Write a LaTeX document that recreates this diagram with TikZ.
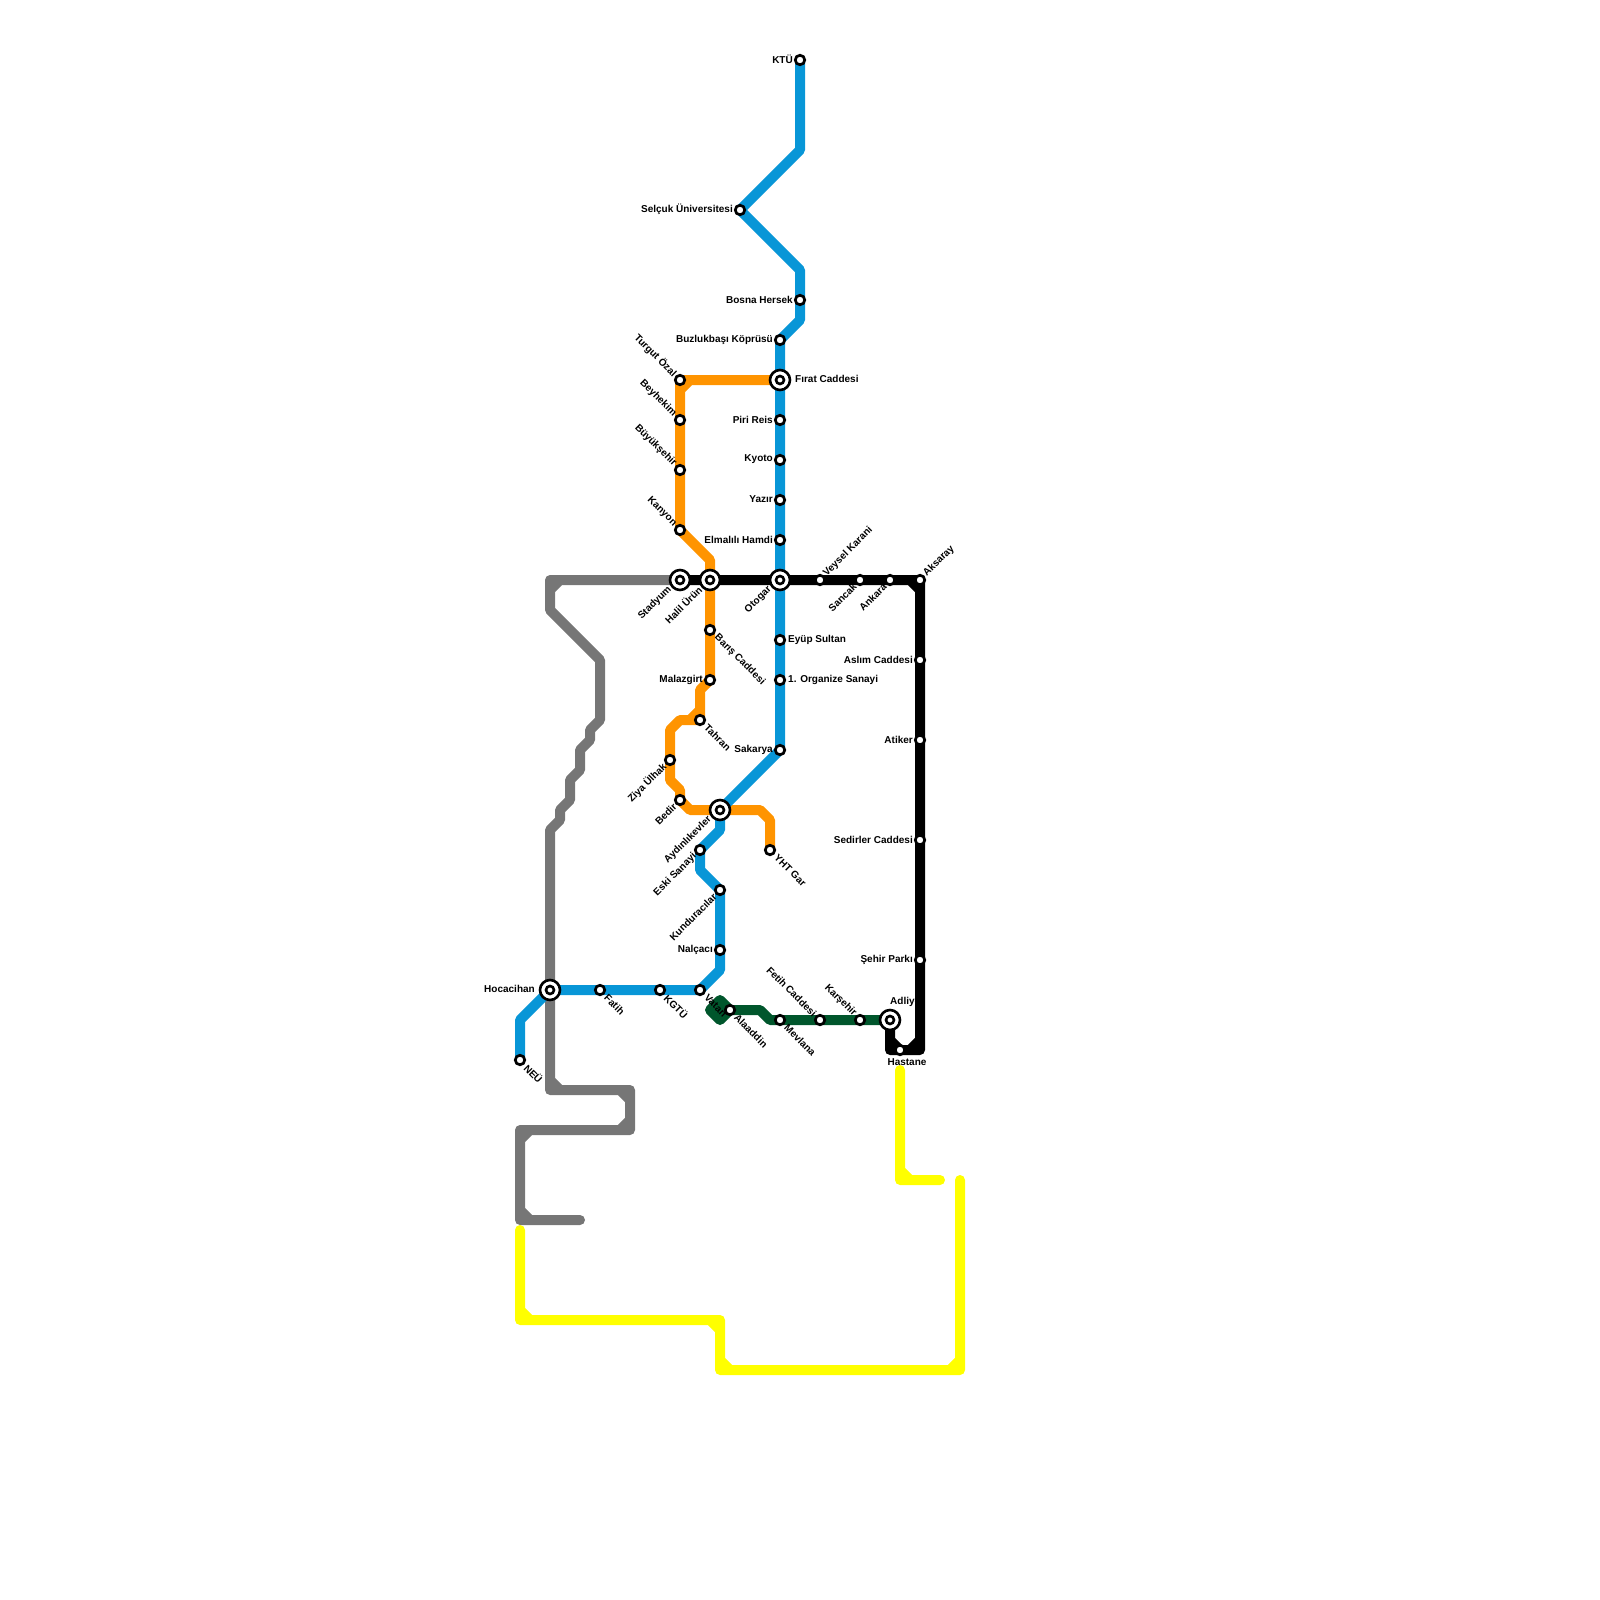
\documentclass[tikz,border=0pt]{standalone}
\usepackage{xcolor}
\usepackage{fontspec}
\setmainfont{Liberation Sans}
\usetikzlibrary{backgrounds}
\definecolor{tramblue}{HTML}{0896D7}
\definecolor{tramorange}{HTML}{FF9400}
\definecolor{tramgray}{HTML}{767676}
\definecolor{tramgreen}{HTML}{00562C}
\definecolor{tramyellow}{HTML}{FFFF00}
\tikzset{
    tramline/.style={line width=10pt, line join=round, line cap=round},
    stn/.style={circle, draw=black, fill=white, line width=2.7pt, minimum size=9.5pt, inner sep=0pt},
    hub/.style={circle, draw=black, fill=white, line width=2.6pt, minimum size=20pt, inner sep=0pt,
          path picture={\draw[line width=2.6pt] (path picture bounding box.center) circle (4pt);}},
    lbl/.style={inner sep=0pt, font=\bfseries\fontsize{10}{12}\selectfont, text=black},
    lblw/.style={lbl, anchor=east, xshift=-7pt, yshift=.5pt},
    lble/.style={lbl, anchor=west, xshift=8pt, yshift=.5pt},
    lblhw/.style={lbl, anchor=east, xshift=-15pt, yshift=1pt},
    lblhe/.style={lbl, anchor=west, xshift=15pt, yshift=1pt},
    lblse/.style={lbl, anchor=west, xshift=6pt, yshift=-6pt, rotate=-45},
    lblne/.style={lbl, anchor=west, xshift=5pt, yshift=5pt, rotate=45},
    lblsw/.style={lbl, anchor=east, xshift=-5pt, yshift=-5pt, rotate=45},
    lblnw/.style={lbl, anchor=east, xshift=-5pt, yshift=5pt, rotate=-45},
    lblhsw/.style={lbl, anchor=east, xshift=-10pt, yshift=-8pt, rotate=45}
}

\begin{document}
\begin{tikzpicture}[x=1pt, y=-1pt]
    \useasboundingbox (0,0) rectangle (1600,1600);

    \node[stn] (ktu) at (800,60) {};
    \node[stn] (selcuk) at (740,210) {};
    \node[stn] (bosna) at (800,300) {};
    \node[stn] (buzluk) at (780,340) {};
    \node[hub] (firat) at (780,380) {};
    \node[stn] (piri) at (780,420) {};
    \node[stn] (kyoto) at (780,460) {};
    \node[stn] (yazir) at (780,500) {};
    \node[stn] (elmalili) at (780,540) {};
    \node[hub] (otogar) at (780,580) {};
    \node[stn] (eyup) at (780,640) {};
    \node[stn] (organize) at (780,680) {};
    \node[stn] (sakarya) at (780,750) {};
    \node[hub] (aydinlik) at (720,810) {};
    \node[stn] (eski) at (700,850) {};
    \node[stn] (kundura) at (720,890) {};
    \node[stn] (nalcaci) at (720,950) {};
    \node[stn] (vatan) at (700,990) {};
    \node[stn] (kgtu) at (660,990) {};
    \node[stn] (fatih) at (600,990) {};
    \node[hub] (hocacihan) at (550,990) {};
    \node[stn] (neu) at (520,1060) {};

    \node[stn] (turgut) at (680,380) {};
    \node[stn] (beyhekim) at (680,420) {};
    \node[stn] (buyuksehir) at (680,470) {};
    \node[stn] (kanyon) at (680,530) {};
    \node[hub] (halil) at (710,580) {};
    \node[stn] (baris) at (710,630) {};
    \node[stn] (malazgirt) at (710,680) {};
    \node[stn] (tahran) at (700,720) {};
    \node[stn] (ziya) at (670,760) {};
    \node[stn] (bedir) at (680,800) {};
    \node[stn] (yht) at (770,850) {};

    \node[hub] (stadyum) at (680,580) {};
    \node[stn] (veysel) at (820,580) {};
    \node[stn] (sancak) at (860,580) {};
    \node[stn] (ankara) at (890,580) {};
    \node[stn] (aksaray) at (920,580) {};
    \node[stn] (aslim) at (920,660) {};
    \node[stn] (atiker) at (920,740) {};
    \node[stn] (sedirler) at (920,840) {};
    \node[stn] (sehir) at (920,960) {};
    \node[stn] (hastane) at (900,1050) {};
    \node[hub] (adliye) at (890,1020) {};

    \node[stn] (karsehir) at (860,1020) {};
    \node[stn] (fetih) at (820,1020) {};
    \node[stn] (mevlana) at (780,1020) {};
    \node[stn] (alaaddin) at (730,1010) {};

    \begin{scope}[on background layer]
        \draw[tramline, tramgray] (stadyum.center) -- (550,580) -- (550,610) -- (600,660) -- (600,720) -- (590,730)
            -- (590,740) -- (580,750) -- (580,770) -- (570,780) -- (570,800) -- (560,810) -- (560,820) -- (550,830)
            -- (550,1090) -- (630,1090) -- (630,1130) -- (520,1130) -- (520,1220) -- (580,1220)
            (550,590) -- (560,580) (550,1080) -- (560,1090) (620,1090) -- (630,1100)
            (630,1120) -- (620,1130) (530,1130) -- (520,1140) (520,1210) -- (530,1220);
        \draw[tramline, tramyellow] (900,1070) -- (900,1180) -- (940,1180) (900,1170) -- (910,1180);
        \draw[tramline, tramyellow] (960,1180) -- (960,1370) -- (720,1370) -- (720,1320) -- (520,1320) -- (520,1230)
            (960,1360) -- (950,1370) (720,1360) -- (730,1370) (710,1320) -- (720,1330) (520,1310) -- (530,1320);
        \draw[tramline, tramorange] (firat.center) -- (turgut.center) -- (kanyon.center) -- (710,560) -- (malazgirt.center)
            -- (700,690) -- (tahran.center) -- (680,720) -- (670,730) -- (670,780) -- (680,790) -- (bedir.center)
            -- (690,810) -- (760,810) -- (770,820) -- (yht.center)
            (690,380) -- (680,390) (690,720) -- (700,710);
        \draw[tramline, tramblue] (ktu.center) -- (800,150) -- (selcuk.center) -- (800,270) -- (800,320) -- (buzluk.center)
            -- (sakarya.center) -- (aydinlik.center) -- (720,830) -- (eski.center) -- (700,870) -- (kundura.center)
            -- (720,970) -- (vatan.center) -- (hocacihan.center) -- (520,1020) -- (neu.center);
        \draw[tramline, tramgreen, fill=tramgreen] (730,1010) -- (720,1000) -- (710,1010) -- (720,1020) -- cycle;
        \draw[tramline, tramgreen] (alaaddin.center) -- (760,1010) -- (770,1020) -- (adliye.center);
        \draw[tramline, black] (stadyum.center) -- (aksaray.center) -- (920,1050) -- (890,1050) -- (adliye.center)
            (910,580) -- (920,590) (910,1050) -- (920,1040) (890,1040) -- (900,1050);
    \end{scope}

    \node[lblw] (ktulbl) at (ktu) {KTÜ};
    \node[lblw] (selcuklbl) at (selcuk) {Selçuk Üniversitesi};
    \node[lblw] (bosnalbl) at (bosna) {Bosna Hersek};
    \node[lblw] (buzluklbl) at (buzluk) {Buzlukbaşı Köprüsü};
    \node[lblhe] (firatlbl) at (firat) {Fırat Caddesi};
    \node[lblw] (pirilbl) at (piri) {Piri Reis};
    \node[lblw] (kyotolbl) at (kyoto) {Kyoto};
    \node[lblw] (yazirlbl) at (yazir) {Yazır};
    \node[lblw] (elmalililbl) at (elmalili) {Elmalılı Hamdi};
    \node[lblhsw] (otogarlbl) at (otogar) {Otogar};
    \node[lble] (eyuplbl) at (eyup) {Eyüp Sultan};
    \node[lble] (organizelbl) at (organize) {1. Organize Sanayi};
    \node[lblw] (sakaryalbl) at (sakarya) {Sakarya};
    \node[lblhsw] (aydinliklbl) at (aydinlik) {Aydınlıkevler};
    \node[lblsw] (eskilbl) at (eski) {Eski Sanayi};
    \node[lblsw] (kunduralbl) at (kundura) {Kunduracılar};
    \node[lblw] (nalcacilbl) at (nalcaci) {Nalçacı};
    \node[lblse] (vatanlbl) at (vatan) {Vatan};
    \node[lblse] (kgtulbl) at (kgtu) {KGTÜ};
    \node[lblse] (fatihlbl) at (fatih) {Fatih};
    \node[lblhw] (hocacihanlbl) at (hocacihan) {Hocacihan};
    \node[lblse] (neulbl) at (neu) {NEÜ};
    \node[lblnw] (turgutlbl) at (turgut) {Turgut Özal};
    \node[lblnw] (beyhekimlbl) at (beyhekim) {Beyhekim};
    \node[lblnw] (buyuksehirlbl) at (buyuksehir) {Büyükşehir};
    \node[lblnw] (kanyonlbl) at (kanyon) {Kanyon};
    \node[lblhsw] (halillbl) at (halil) {Halil Ürün};
    \node[lblse] (barislbl) at (baris) {Barış Caddesi};
    \node[lblw] (malazgirtlbl) at (malazgirt) {Malazgirt};
    \node[lblse] (tahranlbl) at (tahran) {Tahran};
    \node[lblsw] (ziyalbl) at (ziya) {Ziya Ülhak};
    \node[lblsw] (bedirlbl) at (bedir) {Bedir};
    \node[lblse] (yhtlbl) at (yht) {YHT Gar};
    \node[lblhsw] (stadyumlbl) at (stadyum) {Stadyum};
    \node[lblne] (veysellbl) at (veysel) {Veysel Karani};
    \node[lblsw] (sancaklbl) at (sancak) {Sancak};
    \node[lblsw] (ankaralbl) at (ankara) {Ankara};
    \node[lblne] (aksaraylbl) at (aksaray) {Aksaray};
    \node[lblw] (aslimlbl) at (aslim) {Aslım Caddesi};
    \node[lblw] (atikerlbl) at (atiker) {Atiker};
    \node[lblw] (sedirlerlbl) at (sedirler) {Sedirler Caddesi};
    \node[lblw] (sehirlbl) at (sehir) {Şehir Parkı};
    \node[lbl, anchor=north, xshift=7pt, yshift=-8pt] (hastanelbl) at (hastane) {Hastane};
    \node[lbl, anchor=west, yshift=18pt] (adliyelbl) at (adliye) {Adliye};
    \node[lblnw] (karsehirlbl) at (karsehir) {Karşehir};
    \node[lblnw] (fetihlbl) at (fetih) {Fetih Caddesi};
    \node[lblse] (mevlanalbl) at (mevlana) {Mevlana};
    \node[lblse] (alaaddinlbl) at (alaaddin) {Alaaddin};
\end{tikzpicture}
\end{document}
